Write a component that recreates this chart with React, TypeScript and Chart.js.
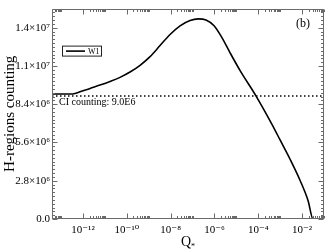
import React, { useEffect, useRef } from 'react';
import { Chart, registerables } from 'chart.js';

Chart.register(...registerables);

// ---- data ----
const seriesLabel = 'W1';
const qValues = [
  3.84e-14, 2.55e-13, 3.9e-13, 7.3e-13, 2.09e-12, 5.97e-12, 1.71e-11, 4.89e-11, 1.4e-10,
  4.01e-10, 1.15e-9, 3.28e-9, 9.4e-9, 2.69e-8, 7.69e-8, 1.78e-7, 4.13e-7, 9.58e-7,
  2.22e-6, 5.15e-6, 1.48e-5, 7.94e-5, 4.27e-4, 9.89e-4, 2.83e-3, 8.11e-3, 1.88e-2,
  3.16e-2, 1.0e-1,
];
const countValues = [
  9.15e6, 9.15e6, 9.17e6, 9.31e6, 9.56e6, 9.8e6, 1.0065e7, 1.0368e7, 1.0756e7,
  1.125e7, 1.1885e7, 1.2696e7, 1.3507e7, 1.4141e7, 1.4529e7, 1.4649e7, 1.4565e7, 1.4141e7,
  1.326e7, 1.2167e7, 1.0862e7, 9.0e6, 6.912e6, 5.784e6, 4.373e6, 2.822e6, 1.341e6,
  0, 0,
];
const ciValue = 9.0e6;
const ciLabel = 'CI counting: 9.0E6';
const panelLabel = '(b)';
const yTitle = 'H-regions counting';
const xTitleMain = 'Q';
const xTitleSub = '*';

const xMin = 3.84e-14;
const xMax = 1e-1;
const yMax = 1.54e7;
const yStep = 2.8e6;

const xTickValues = [1e-12, 1e-10, 1e-8, 1e-6, 1e-4, 1e-2];
const xTickLabels = ['10⁻¹²', '10⁻¹⁰', '10⁻⁸', '10⁻⁶', '10⁻⁴', '10⁻²'];
const xMajorExponents = [-14, -12, -10, -8, -6, -4, -2];
const yTickValues = [0, 2.8e6, 5.6e6, 8.4e6, 1.12e7, 1.4e7];
const yTickLabels = ['0.0', '2.8×10⁶', '5.6×10⁶', '8.4×10⁶', '1.1×10⁷', '1.4×10⁷'];

const SERIF = "'Liberation Serif', 'Times New Roman', 'DejaVu Serif', serif";
const AXIS_COLOR = '#6a6a6a';

const framePlugin = {
  id: 'framePlugin',
  afterDraw(chart: any) {
    const { ctx, chartArea } = chart;
    const { left, right, top, bottom } = chartArea;
    const xs = chart.scales.x;
    const ys = chart.scales.y;
    const L = Math.round(left) + 0.5;
    const R = Math.round(right) - 0.5;
    const T = Math.round(top) + 0.5;
    const B = Math.round(bottom) - 0.5;
    ctx.save();
    ctx.strokeStyle = AXIS_COLOR;
    ctx.lineWidth = 1;
    ctx.beginPath();
    ctx.rect(L, T, R - L, B - T);
    ctx.stroke();

    const majorLen = 5;
    const minorLen = 2.5;
    ctx.beginPath();
    xTickValues.forEach((v) => {
      const px = Math.round(xs.getPixelForValue(v)) + 0.5;
      ctx.moveTo(px, B); ctx.lineTo(px, B - majorLen);
      ctx.moveTo(px, T); ctx.lineTo(px, T + majorLen);
    });
    xMajorExponents.forEach((e) => {
      for (let k = 2; k <= 10; k++) {
        const v = k * Math.pow(10, e);
        if (v < xMin || v > xMax) continue;
        const px = Math.round(xs.getPixelForValue(v)) + 0.5;
        ctx.moveTo(px, B); ctx.lineTo(px, B - minorLen);
        ctx.moveTo(px, T); ctx.lineTo(px, T + minorLen);
      }
    });
    yTickValues.forEach((v) => {
      const py = Math.round(ys.getPixelForValue(v)) + 0.5;
      ctx.moveTo(L, py); ctx.lineTo(L + majorLen, py);
      ctx.moveTo(R, py); ctx.lineTo(R - majorLen, py);
    });
    const minorStep = yStep / 10;
    for (let i = 1; i * minorStep < yMax; i++) {
      if (i % 10 === 0) continue;
      const py = Math.round(ys.getPixelForValue(i * minorStep)) + 0.5;
      ctx.moveTo(L, py); ctx.lineTo(L + minorLen, py);
      ctx.moveTo(R, py); ctx.lineTo(R - minorLen, py);
    }
    ctx.stroke();

    // legend box
    const lx = left + 10;
    const ly = top + 37;
    ctx.fillStyle = '#fff';
    ctx.fillRect(lx, ly, 39, 10);
    ctx.strokeStyle = '#222';
    ctx.strokeRect(lx + 0.5, ly + 0.5, 39, 10);
    ctx.strokeStyle = '#000';
    ctx.lineWidth = 1.6;
    ctx.beginPath();
    ctx.moveTo(lx + 4, ly + 5.5);
    ctx.lineTo(lx + 23, ly + 5.5);
    ctx.stroke();
    ctx.fillStyle = '#000';
    ctx.font = `8px ${SERIF}`;
    ctx.textBaseline = 'middle';
    ctx.textAlign = 'left';
    ctx.fillText(seriesLabel, lx + 26, ly + 6);

    // CI label
    const ciY = ys.getPixelForValue(ciValue);
    ctx.font = `10px ${SERIF}`;
    ctx.fillText(ciLabel, left + 7, ciY + 6);

    // panel label
    ctx.font = `12px ${SERIF}`;
    ctx.fillText(panelLabel, right - 28, top + 15);

    // x title with subscript
    const cx = (left + right) / 2;
    ctx.font = `14px ${SERIF}`;
    ctx.textBaseline = 'alphabetic';
    const w = ctx.measureText(xTitleMain).width;
    ctx.fillText(xTitleMain, cx - w / 2 - 2, 246);
    ctx.font = `8px ${SERIF}`;
    ctx.fillText(xTitleSub, cx + w / 2 - 2, 249);
    ctx.restore();
  },
};

export default function App() {
  const ref = useRef<HTMLCanvasElement | null>(null);
  useEffect(() => {
    if (!ref.current) return;
    const chart = new Chart(ref.current, {
      type: 'line',
      data: {
        datasets: [
          {
            label: seriesLabel,
            data: qValues.map((q, i) => ({ x: q, y: countValues[i] })),
            borderColor: '#000',
            borderWidth: 1.6,
            pointRadius: 0,
            cubicInterpolationMode: 'monotone',
            fill: false,
          },
          {
            label: ciLabel,
            data: [
              { x: xMin, y: ciValue },
              { x: xMax, y: ciValue },
            ],
            borderColor: '#000',
            borderWidth: 1.4,
            borderDash: [1.5, 2.5],
            pointRadius: 0,
            fill: false,
          },
        ],
      },
      options: {
        responsive: false,
        animation: false,
        layout: { padding: { left: 0, right: 2, top: 1, bottom: 0 } },
        plugins: { legend: { display: false }, tooltip: { enabled: false } },
        scales: {
          x: {
            type: 'logarithmic',
            min: xMin,
            max: xMax,
            grid: { display: false, drawTicks: false },
            border: { display: false },
            afterBuildTicks: (s: any) => {
              s.ticks = xTickValues.map((v) => ({ value: v }));
            },
            afterFit: (s: any) => {
              s.height = 31;
            },
            ticks: {
              autoSkip: false,
              maxRotation: 0,
              padding: 5,
              color: '#000',
              font: { family: SERIF, size: 11 },
              callback: (_v: any, i: number) => xTickLabels[i],
            },
          },
          y: {
            type: 'linear',
            min: 0,
            max: yMax,
            grid: { display: false, drawTicks: false },
            border: { display: false },
            afterBuildTicks: (s: any) => {
              s.ticks = yTickValues.map((v) => ({ value: v }));
            },
            afterFit: (s: any) => {
              s.width = 52;
            },
            ticks: {
              padding: 2,
              color: '#000',
              font: { family: SERIF, size: 11 },
              callback: (_v: any, i: number) => yTickLabels[i],
            },
            title: {
              display: true,
              text: yTitle,
              color: '#000',
              font: { family: SERIF, size: 15 },
              padding: { top: 1, bottom: 0 },
            },
          },
        },
      },
      plugins: [framePlugin],
    } as any);
    return () => chart.destroy();
  }, []);
  return (
    <div style={{ position: 'fixed', left: 0, top: 0, width: 326, height: 250, background: '#fff' }}>
      <canvas ref={ref} width={326} height={250} style={{ width: 326, height: 250 }} />
    </div>
  );
}
